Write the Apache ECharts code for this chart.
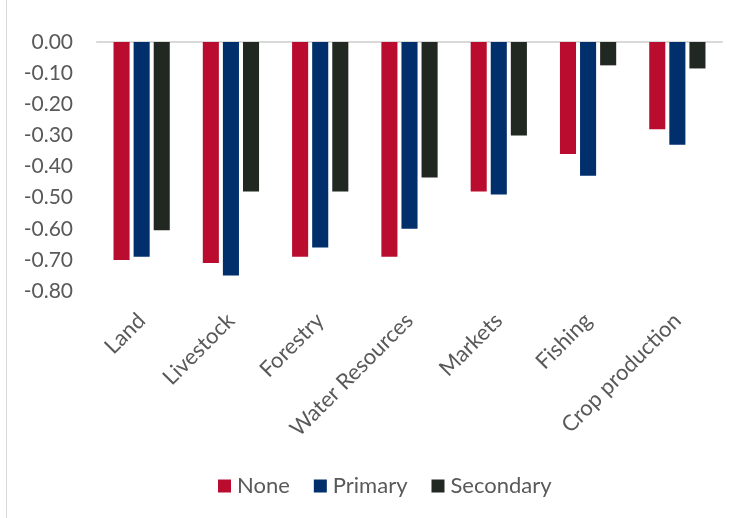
<!DOCTYPE html>
<html>
<head>
<meta charset="utf-8">
<script src="https://cdn.jsdelivr.net/npm/echarts@6/dist/echarts.min.js"></script>
<style>
  html, body { margin: 0; padding: 0; background: #fff; }
  #chart { width: 744px; height: 518px; }
</style>
</head>
<body>
<div id="chart"></div>
<script>
// Sectors and change values by level of activity
const categories = ['Land', 'Livestock', 'Forestry', 'Water Resources', 'Markets', 'Fishing', 'Crop production'];
const seriesNames = ['None', 'Primary', 'Secondary'];
const noneValues = [-0.70, -0.71, -0.69, -0.69, -0.48, -0.36, -0.28];
const primaryValues = [-0.69, -0.75, -0.66, -0.60, -0.49, -0.43, -0.33];
const secondaryValues = [-0.605, -0.48, -0.48, -0.435, -0.30, -0.075, -0.085];
const colors = ['#BA0C2F', '#002F6C', '#212721'];

const FONT = 'Lato';
const TEXT = '#595959';

const chart = echarts.init(document.getElementById('chart'), null, { renderer: 'canvas' });

const values = [noneValues, primaryValues, secondaryValues];

chart.setOption({
  animation: false,
  backgroundColor: '#ffffff',
  textStyle: { fontFamily: FONT },
  graphic: [{
    type: 'line',
    shape: { x1: 6.5, y1: 0, x2: 6.5, y2: 518 },
    style: { stroke: '#d9d9d9', lineWidth: 1 }
  }],
  grid: { left: 97, right: 22, top: 42, bottom: 227, containLabel: false },
  legend: {
    data: seriesNames,
    bottom: 16,
    left: 213,
    itemWidth: 13,
    itemHeight: 13,
    itemGap: 24,
    icon: 'rect',
    textStyle: { fontFamily: FONT, fontSize: 22, color: TEXT, padding: [0, 0, 0, 1] }
  },
  xAxis: [{
    type: 'category',
    data: categories,
    position: 'bottom',
    axisLine: { show: false, onZero: false },
    axisTick: { show: false },
    axisLabel: { rotate: 45, margin: 26, fontFamily: FONT, fontSize: 22, color: TEXT, interval: 0 }
  }, {
    type: 'category',
    data: categories,
    position: 'top',
    axisLine: { show: true, onZero: false, lineStyle: { color: '#d9d9d9', width: 2 } },
    axisTick: { show: false },
    axisLabel: { show: false }
  }],
  yAxis: {
    type: 'value',
    min: -0.8,
    max: 0,
    interval: 0.1,
    axisLine: { show: false },
    axisTick: { show: false },
    splitLine: { show: false },
    axisLabel: {
      margin: 24,
      fontFamily: FONT,
      fontSize: 21,
      color: TEXT,
      formatter: v => v.toFixed(2)
    }
  },
  series: seriesNames.map((name, i) => ({
    name,
    type: 'bar',
    xAxisIndex: 0,
    data: values[i],
    barGap: '25%',
    barCategoryGap: '37%',
    itemStyle: { color: colors[i] }
  }))
});
</script>
</body>
</html>
